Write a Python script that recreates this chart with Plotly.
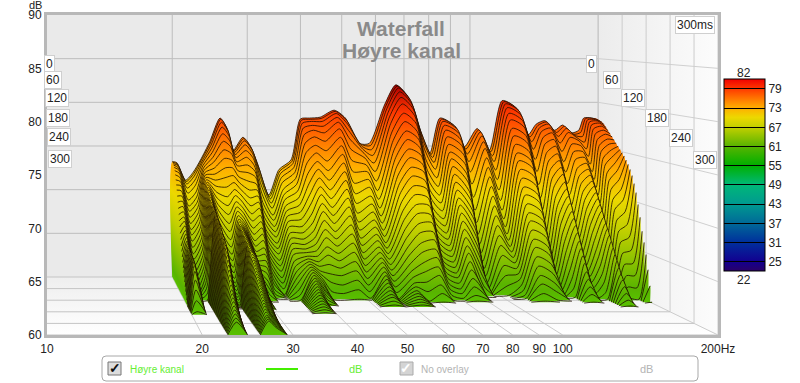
import math
import plotly.graph_objects as go

# time step of the slices (ms) and frequencies (Hz)
times = [i * 5 for i in range(61)]
freqs = [20, 20.5, 21.5, 22.4, 23.3, 24.5, 25.9, 26.9, 27.8, 29.3, 30.5, 31.8, 33.7, 35.6, 38, 40, 42, 44.5, 48, 51, 55, 58, 63, 67, 71.5, 76, 80.5, 85, 92, 97, 104, 111, 119, 128, 137, 143, 150, 158, 165, 173, 180, 185, 193, 200]

# decay of each frequency (dB at 0, 5, 10 ... ms; a list ends where it falls below the 60 dB floor)
d20 = [73.2,73.2,73.1,73,72.8,72.5,72.1,71.6,71.1,70.6,70,69.4,68.8,68.2,67.6,67,66.4,65.8,65.2,64.7,64.2,63.7,63.2,62.8,62.4,62,61.6,61.2,60.9,60.5,60.2]
d20_5 = [73.1,73,72.9,72.7,72.5,72.2,71.8,71.4,71,70.5,70,69.5,69,68.5,68,67.6,67.2,66.8,66.5,66.2,65.9,65.7,65.5,65.4,65.3,65.2,65.2,65.1,65.1,65,65,65,64.9,64.8,64.5,64,63.2,62.3,61.3,60.3]
d21_5 = [71.1,71,70.8,70.4,69.9,69.2,68.6,68.1,67.5,66.9,66.3,65.8,65.2,64.6,64,63.5,62.9,62.3,61.7,61.2,60.6,60.1]
d22_4 = [72,71.9,71.7,71.3,70.8,70.1,69.6,69.1,68.6,68.1,67.6,67.1,66.6,66.1,65.6,65.1,64.6,64.1,63.6,63.1,62.6,62.1,61.6,61.1,60.6,60.1]
d23_3 = [73.4,73.4,73.3,73.2,73,72.8,72.6,72.4,72.2,72,71.8,71.6,71.4,71.2,71,70.8,70.6,70.4,70.2,70,69.8,69.7,69.6,69.5,69.4,69.3,69.2,69.1,69,68.9,68.8,68.7,68.6,68.5,68.3,68.2,68,67.9,67.8,67.6,67.5,67.4,67.2,67,66.7,66.4,66,65.6,65.2,64.8,64.4,64,63.6,63.3,63,62.7,62.4,62.1,61.8,61.5,61.2]
d24_5 = [75.5,75.4,75.2,74.9,74.5,74,73.5,72.9,72.3,71.7,71.1,70.5,69.9,69.3,68.7,68.1,67.5,66.9,66.4,65.9,65.4,64.9,64.5,64.1,63.7,63.3,62.9,62.5,62.1,61.7,61.3,60.9,60.5,60.2]
d25_9 = [78.2,78.1,77.8,77.3,76.6,75.8,74.9,74,73,72,71,70,69.1,68.2,67.3,66.5,65.7,65,64.3,63.7,63.1,62.6,62.1,61.7,61.4,61.1,60.8,60.6,60.4,60.2,60.1]
d26_9 = [77,76.9,76.7,76.3,75.8,75.2,74.5,73.8,73,72.2,71.5,70.8,70.2,69.6,69.1,68.7,68.3,68,67.8,67.6,67.5,67.4,67.3,67.2,67.1,67,66.9,66.8,66.7,66.6,66.5,66.4,66.3,66.2,66.1,66,65.8,65.6,65.4,65.2,65,64.8,64.6,64.4,64.2,64,63.8,63.6,63.4,63.2,63,62.8,62.6,62.4,62.2,62,61.8,61.6,61.5,61.4,61.3]
d27_8 = [74.5,74.5,74.4,74.2,73.9,73.5,73.1,72.6,72,71.4,70.8,70.2,69.6,69,68.5,68,67.6,67.3,67,66.8,66.6,66.4,66.3,66.2,66.1,66,65.9,65.8,65.7,65.6,65.5,65.4,65.3,65.2,65.1,65,64.8,64.6,64.4,64.2,64,63.8,63.6,63.4,63.2,63,62.8,62.6,62.4,62.2,62,61.8,61.6,61.4,61.3,61.2,61.1,61,60.9,60.8,60.7]
d29_3 = [76,75.9,75.7,75.3,74.7,74,73.2,72.4,71.5,70.6,69.8,69,68.2,67.5,66.8,66.2,65.6,65.1,64.6,64.2,63.8,63.5,63.2,62.9,62.7,62.5,62.3,62.1,61.9,61.7,61.5,61.3,61.1,60.8,60.5]
d30_5 = [75,74.9,74.7,74.3,73.8,73.1,72.5,71.9,71.2,70.6,70,69.4,68.8,68.1,67.5,66.9,66.3,65.7,65,64.4,63.8,63.2,62.6,61.9,61.3,60.7,60.1]
d31_8 = [72.8,72.6,72.2,71.6,70.8,69.9,69,68.2,67.5,66.9,66.3,65.8,65.3,64.8,64.3,63.8,63.3,62.8,62.3,61.8,61.3,60.8,60.4,60.1]
d33_7 = [69.4,69.3,69.1,68.7,68.2,67.5,67,66.4,65.9,65.4,64.8,64.3,63.8,63.2,62.7,62.2,61.6,61.1,60.6,60.1]
d35_6 = [72.3,72.2,72,71.6,71.1,70.4,69.9,69.4,68.8,68.3,67.8,67.3,66.8,66.2,65.7,65.2,64.7,64.2,63.6,63.1,62.6,62.1,61.6,61,60.5,60.1]
d38 = [73.4,73.3,73.1,72.7,72.2,71.6,71,70.3,69.6,68.9,68.2,67.5,66.8,66.2,65.6,65.1,64.7,64.4,64.1,63.9,63.7,63.5,63.3,63.1,62.9,62.7,62.5,62.3,62.1,61.9,61.7,61.5,61.3,61.1,60.9,60.7,60.5,60.3,60.1]
d40 = [78.1,78,77.7,77.2,76.5,75.6,74.6,73.5,72.4,71.3,70.2,69.2,68.2,67.3,66.5,65.8,65.2,64.6,64.1,63.6,63.2,62.8,62.5,62.2,61.9,61.6,61.3,61.1,60.8,60.5,60.2]
d42 = [78.2,78.1,77.9,77.5,77,76.3,75.4,74.6,73.7,72.9,72,71.1,70.3,69.4,68.6,67.7,66.8,66,65.1,64.3,63.4,62.5,61.7,60.8,60.1]
d44_5 = [78.3,78.2,77.9,77.4,76.7,75.8,74.8,73.7,72.7,71.7,70.7,69.8,68.9,68.1,67.3,66.5,65.8,65.1,64.4,63.7,63,62.3,61.4,60.6]
d48 = [79.1,79,78.8,78.4,77.9,77.2,76.3,75.4,74.5,73.6,72.7,71.8,70.9,70,69.1,68.2,67.3,66.4,65.5,64.6,63.7,62.8,61.9,61,60.1]
d51 = [78.2,78,77.6,76.9,76,74.9,73.7,72.5,71.3,70.2,69.2,68.2,67.3,66.5,65.7,65,64.3,63.7,63.1,62.5,61.9,61.3,60.7,60.1]
d55 = [75.3,75.3,75.1,74.8,74.4,73.9,73.2,72.5,71.7,70.9,70,69.2,68.4,67.6,66.9,66.2,65.6,65,64.5,64,63.6,63.2,62.8,62.5,62.2,61.9,61.6,61.3,61,60.8,60.5,60.2]
d58 = [75.3,75.1,74.7,74.1,73.3,72.4,71.4,70.4,69.5,68.6,67.8,67.1,66.4,65.8,65.2,64.7,64.2,63.7,63.2,62.7,62.2,61.7,61.2,60.7,60.1]
d63 = [79.7,79.6,79.4,79,78.5,77.8,76.9,76,75.1,74.2,73.3,72.4,71.5,70.6,69.7,68.8,67.9,67,66.1,65.2,64.4,63.6,62.9,62.3,61.8,61.5,61.2,61,60.8,60.6,60.4,60.2]
d67 = [82,81.9,81.7,81.3,80.7,80,79,78.1,77.1,76.2,75.2,74.3,73.3,72.4,71.4,70.5,69.5,68.6,67.6,66.7,65.7,64.8,63.8,62.9,61.9,61,60.1]
d71_5 = [80.6,80.5,80.3,79.9,79.4,78.7,77.9,77,76.2,75.3,74.5,73.6,72.8,71.9,71.1,70.2,69.4,68.5,67.7,66.8,66,65.1,64.3,63.4,62.6,61.7,60.9,60.1]
d76 = [77,76.8,76.4,75.7,74.8,73.7,72.6,71.5,70.5,69.6,68.7,67.9,67.2,66.5,65.8,65.2,64.6,64,63.5,63,62.5,62,61.5,61,60.5,60.1]
d80_5 = [74.2,74.1,73.8,73.3,72.6,71.7,70.8,69.9,69.1,68.3,67.5,66.8,66.1,65.5,64.9,64.4,63.9,63.4,62.9,62.4,62,61.5,61,60.6,60.2]
d85 = [78.2,78.1,77.9,77.5,77,76.3,75.5,74.7,74,73.2,72.4,71.6,70.8,70,69.3,68.5,67.7,66.9,66.1,65.3,64.6,63.8,63,62.2,61.4,60.6,60.1]
d92 = [77.3,77.2,77,76.6,76,75.3,74.4,73.4,72.4,71.5,70.5,69.6,68.6,67.7,66.7,65.8,64.8,63.9,62.9,62,61,60.1]
d97 = [74.9,74.7,74.2,73.4,72.3,71,69.6,68.2,66.9,65.7,64.7,63.8,63,62.3,61.6,61,60.5,60.1]
d104 = [77,76.9,76.7,76.3,75.7,75,74,73,72,71,70,69,68,67,66,65,64,63,62,61,60.1]
d111 = [74.5,74.4,74,73.4,72.5,71.5,70.4,69.3,68.3,67.4,66.6,65.9,65.3,64.7,64.2,63.7,63.2,62.7,62.2,61.7,61.2,60.7,60.3,60.1]
d119 = [80.2,80.1,79.9,79.5,78.9,78.2,77.3,76.5,75.6,74.7,73.9,73,72.1,71.2,70.4,69.5,68.6,67.8,66.9,66,65.2,64.3,63.4,62.5,61.7,60.8,60.1]
d128 = [79.4,79.3,79.1,78.7,78.1,77.4,76.5,75.7,74.8,73.9,73.1,72.2,71.3,70.4,69.6,68.7,67.8,67,66.1,65.2,64.4,63.5,62.6,61.7,60.9,60.1]
d137 = [76.3,76.1,75.6,74.8,73.7,72.4,71,69.6,68.3,67.1,66,65.1,64.3,63.6,63,62.4,61.9,61.4,60.9,60.5,60.1]
d143 = [77.5,77.4,77.2,76.8,76.2,75.5,74.6,73.7,72.8,71.9,71,70,69.1,68.2,67.3,66.4,65.5,64.6,63.7,62.7,61.8,60.9,60.1]
d150 = [77.9,77.8,77.6,77.2,76.7,76,75.3,74.5,73.8,73.1,72.4,71.6,70.9,70.2,69.5,68.7,68,67.3,66.6,65.8,65.1,64.4,63.7,62.9,62.2,61.5,60.8,60.1]
d158 = [76.8,76.6,76.2,75.5,74.6,73.5,72.4,71.2,70,68.9,67.9,67,66.2,65.5,64.8,64.2,63.6,63,62.5,62,61.5,61,60.5,60.1]
d165 = [77.4,77.3,77.1,76.7,76.2,75.5,74.7,73.9,73,72.2,71.4,70.6,69.8,68.9,68.1,67.3,66.5,65.7,64.8,64,63.2,62.4,61.6,60.7,60.1]
d173 = [76.5,76.4,76.3,76.1,75.8,75.3,74.7,74.1,73.5,72.9,72.3,71.7,71.2,70.6,70,69.4,68.8,68.2,67.6,67.1,66.5,65.9,65.3,64.7,64.1,63.5,62.9,62.4,61.8,61.2,60.6,60.1]
d180 = [76.8,76.6,76.2,75.6,74.9,74.1,73.3,72.5,71.7,70.9,70.1,69.3,68.5,67.7,66.9,66.1,65.3,64.5,63.8,63.1,62.5,61.9,61.4,60.9,60.5,60.1]
d185 = [78.2,78.2,78.1,77.9,77.6,77.2,76.7,76.1,75.5,74.9,74.2,73.5,72.7,71.9,71,70,69,67.9,66.8,65.7,64.6,63.5,62.4,61.3,60.2]
d193 = [78.2,78.2,78.1,78,77.8,77.5,77.1,76.7,76.2,75.7,75.1,74.5,73.8,73,72.1,71.1,70,68.8,67.5,66.2,64.9,63.6,62.4,61.2,60.1]
d200 = [78,77.9,77.8,77.6,77.3,77,76.7,76.4,76.1,75.8,75.5,75.2,74.9,74.6,74.2,73.8,73.3,72.7,71.9,71,69.8,68.5,67.1,66,64.8,63.3,61.7,60.1]

decays = [d20,d20_5,d21_5,d22_4,d23_3,d24_5,d25_9,d26_9,d27_8,d29_3,d30_5,d31_8,d33_7,d35_6,d38,d40,d42,d44_5,d48,d51,d55,d58,d63,d67,d71_5,d76,d80_5,d85,d92,d97,d104,d111,d119,d128,d137,d143,d150,d158,d165,d173,d180,d185,d193,d200]

x_tick_vals = [10, 20, 30, 40, 50, 60, 70, 80, 90, 100, 200]
x_tick_text = ["10", "20", "30", "40", "50", "60", "70", "80", "90", "100", "200Hz"]
y_tick_vals = [60, 65, 70, 75, 80, 85, 90]
bar_ticks = [79, 73, 67, 61, 55, 49, 43, 37, 31, 25]
wall_times = [0, 60, 120, 180, 240, 300]

W, H = 800, 383
L, R, T, B = 47, 718, 15, 335
def px(x): return (x - L) / (R - L)
def py(y): return (B - y) / (B - T)

# perspective of the waterfall box: the 300 ms plane is the axis plane, 0 ms lies behind it
BACK_X, BACK_OFF, BACK_Y, BACK_LIFT = 426 / 515.8, -3 / 515.8, 262 / 320, 58 / 10.667
def proj(f, t, db):
    u = t / 300
    lg = math.log10(f / 10)
    s = BACK_X * (1 - u) + u
    off = BACK_OFF * (1 - u)
    k = BACK_Y * (1 - u) + u
    return 10 * 10 ** (lg * s + off), 60 + (db - 60) * k + BACK_LIFT * (1 - u)

color_stops = [(22, "#2a0068"), (25, "#120090"), (31, "#00309c"), (37, "#006a98"), (43, "#009a90"), (49, "#00b878"), (55, "#00b000"), (61, "#58b400"), (67, "#c4d000"), (70, "#ecd800"), (73, "#ffae00"), (76, "#ff7400"), (79, "#ff3800"), (82, "#f00000")]
bar_scale = [[(v - 22) / 60, c] for v, c in color_stops]
surface_scale = [[(v - 60) / 22, c] for v, c in color_stops if v >= 61]
surface_scale = [[0, "#58c000"]] + surface_scale[0:]
surface_scale[1][0] = max(surface_scale[1][0], 0.02)
surface_scale[-1][1] = "#b00000"

fig = go.Figure()

def path(points, color="#bdbdbd", width=1):
    xs, ys = zip(*[proj(*p) for p in points])
    fig.add_trace(go.Scatter(x=xs, y=ys, mode="lines", line=dict(color=color, width=width), hoverinfo="skip", showlegend=False))

def panel(points, orient, c0, c1, start, stop):
    xs, ys = zip(*[proj(*p) for p in points])
    fig.add_trace(go.Scatter(x=xs, y=ys, mode="lines", line=dict(width=0), fill="toself", hoverinfo="skip", showlegend=False,
        fillgradient=dict(type=orient, colorscale=[[0, c0], [1, c1]], start=start, stop=stop)))

# floor and right wall
panel([(10, 0, 60), (200, 0, 60), (200, 300, 60), (10, 300, 60)], "vertical", "#ffffff", "#eeeeee", 60, proj(10, 0, 60)[1])
panel([(200, 0, 60), (200, 0, 90), (200, 300, 90), (200, 300, 60)], "horizontal", "#ececec", "#fcfcfc", proj(200, 0, 60)[0], proj(200, 300, 60)[0])

for db in y_tick_vals[1:-1]:
    path([(10, 0, db), (200, 0, db)])
    path([(200, 0, db), (200, 300, db)], "#d0d0d0")
for f in x_tick_vals[1:]:
    path([(f, 0, 60), (f, 0, 90)])
    path([(f, 0, 60), (f, 300, 60)], "#cccccc")
for t in wall_times:
    path([(10, t, 60), (200, t, 60)], "#c4c4c4")
    path([(200, t, 60), (200, t, 90)], "#cccccc")

# the slices, from the back to the front
for i, t in enumerate(times):
    xs, ys, lx, ly = [], [], [], []
    seg = []
    def flush():
        if len(seg) > 1:
            px_, py_ = zip(*[proj(f, t, v) for f, v in seg])
            fx, fy = proj(seg[0][0], t, 60)
            ex, ey = proj(seg[-1][0], t, 60)
            xs.extend([fx, *px_, ex, None])
            ys.extend([fy, *py_, ey, None])
            lx.extend([*px_, None])
            ly.extend([*py_, None])
    for j, f in enumerate(freqs):
        col = decays[j]
        if i < len(col):
            if not seg and j > 0:
                seg.append((freqs[j - 1], 60))
            seg.append((f, col[i]))
        else:
            if seg:
                seg.append((f, 60))
                flush()
                seg = []
    flush()
    if not xs:
        continue
    y0 = proj(20, t, 60)[1]
    y1 = proj(20, t, 82)[1]
    fig.add_trace(go.Scatter(x=xs, y=ys, mode="lines", line=dict(width=0, shape="spline", smoothing=0.7), fill="toself", connectgaps=False,
        fillgradient=dict(type="vertical", colorscale=surface_scale, start=y0, stop=y1), hoverinfo="skip", showlegend=False))
    fig.add_trace(go.Scatter(x=lx, y=ly, mode="lines", line=dict(color="#1c0c00", width=0.8, shape="spline", smoothing=0.7), connectgaps=False, hoverinfo="skip", showlegend=False))

# colour bar
fig.add_trace(go.Scatter(x=[10], y=[60], mode="markers", hoverinfo="skip", showlegend=False, opacity=0,
    marker=dict(size=1, color=[22], cmin=22, cmax=82, colorscale=bar_scale, showscale=True,
        colorbar=dict(x=px(724), xanchor="left", xpad=0, y=py(79.3), yanchor="top", ypad=0, thickness=41, thicknessmode="pixels",
            len=192, lenmode="pixels", outlinecolor="#000000", outlinewidth=1, tickmode="array", tickvals=bar_ticks,
            ticks="inside", ticklen=41, tickcolor="#000000", tickwidth=1, tickfont=dict(family="Liberation Sans", size=12, color="#222222")))))

annotations = []
def text(x, y, s, size=12, color="#222222", anchor="center", bold=False, box=False):
    a = dict(x=px(x), y=py(y), xref="paper", yref="paper", text=f"<b>{s}</b>" if bold else s, showarrow=False, xanchor=anchor, yanchor="middle",
             font=dict(family="Liberation Sans", size=size, color=color))
    if box:
        a.update(bgcolor="#ffffff", bordercolor="#cfcfcf", borderwidth=1, borderpad=1)
    annotations.append(a)

text(35, 5, "dB", 11)
text(401, 29, "Waterfall", 21, "#8a8a8a", bold=True)
text(401, 50, "Høyre kanal", 21, "#8a8a8a", bold=True)
text(695, 25, "300ms", box=True)
for t, xl, yl, xr, yr in zip(wall_times, [49, 53, 57, 58, 59, 60], [64, 80, 98, 118, 137, 159], [591, 612, 633, 657, 681, 705], [64, 80, 98, 118, 138, 160]):
    text(xl, yl, str(t), box=True)
    text(xr, yr, str(t), box=True)
text(744, 73, "82")
text(744, 280, "22")

text(128, 369, "Høyre kanal", 10, "#66ee33", "left")
text(355, 369, "dB", 11, "#66ee33")
text(419, 369, "No overlay", 10, "#b4b4b4", "left")
text(646, 369, "dB", 11, "#b4b4b4")
text(115, 368, "✓", 14, "#111111", bold=True)
text(406, 368, "✓", 14, "#ffffff", bold=True)

def rect(x0, y0, x1, y1, line, fill, width=1):
    return dict(type="rect", xref="paper", yref="paper", x0=px(x0), x1=px(x1), y0=py(y0), y1=py(y1), line=dict(color=line, width=width), fillcolor=fill, layer="above")

r = 4
rx, ry = r / (R - L), r / (B - T)
a0, a1, b0, b1 = px(102), px(698), py(381), py(356)
legend_box = dict(type="path", xref="paper", yref="paper", layer="above", line=dict(color="#a8a8a8", width=1), fillcolor="#ffffff",
    path=f"M{a0+rx},{b0} L{a1-rx},{b0} Q{a1},{b0} {a1},{b0+ry} L{a1},{b1-ry} Q{a1},{b1} {a1-rx},{b1} L{a0+rx},{b1} Q{a0},{b1} {a0},{b1-ry} L{a0},{b0+ry} Q{a0},{b0} {a0+rx},{b0} Z")
shapes = [legend_box, rect(108, 362, 121, 375, "#777777", "#dddddd"), rect(400, 362, 413, 375, "#aaaaaa", "#d4d4d4"),
    dict(type="line", xref="paper", yref="paper", x0=px(266), x1=px(298), y0=py(369), y1=py(369), line=dict(color="#44ee00", width=2), layer="above")]

fig.update_layout(width=W, height=H, margin=dict(l=L, r=W - R, t=T, b=H - B, autoexpand=False), paper_bgcolor="#ffffff", plot_bgcolor="#eaeaea",
    showlegend=False, annotations=annotations, shapes=shapes,
    font=dict(family="Liberation Sans", size=12, color="#222222"),
    xaxis=dict(type="log", range=[1, math.log10(200)], tickmode="array", tickvals=x_tick_vals, ticktext=x_tick_text, showgrid=False, zeroline=False,
        showline=True, mirror=True, linecolor="#b8b8b8", linewidth=3, ticks="", ticklabelstandoff=1),
    yaxis=dict(range=[60, 90], tickmode="array", tickvals=y_tick_vals, showgrid=False, zeroline=False, showline=True, mirror=True, linecolor="#b8b8b8", linewidth=3, ticks=""))
fig.write_html("out.html", config=dict(displayModeBar=False), post_script="document.body.style.margin='0';document.documentElement.style.overflow='hidden';")
